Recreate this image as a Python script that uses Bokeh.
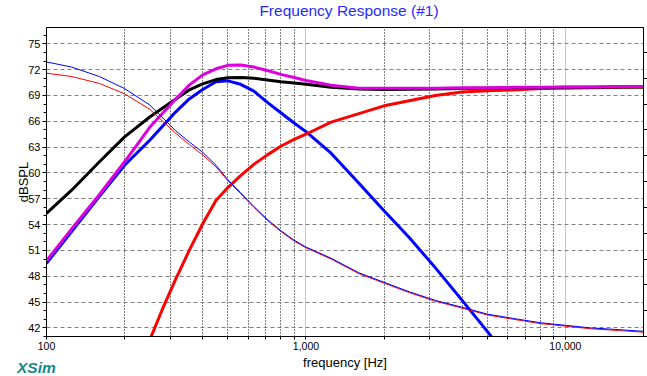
from bokeh.plotting import figure
from bokeh.models import (Range1d, FixedTicker, LinearAxis, Div,
                          CustomJSTickFormatter, GridBox)
from bokeh.embed import file_html
from bokeh.resources import INLINE

# ---------------- data ----------------
freq = [100, 125, 160, 200, 250, 315, 355, 400, 450, 500, 560, 630, 710, 800,
        900, 1000, 1250, 1600, 2000, 2500, 3150, 4000, 5000, 6300, 8000,
        10000, 12500, 16000, 20000]

magenta_db = [49.8, 53.5, 57.5, 61.3, 65.3, 68.6, 70.2, 71.4, 72.1, 72.5, 72.55,
              72.3, 71.9, 71.45, 71.1, 70.75, 70.2, 69.85, 69.85, 69.85, 69.85,
              69.9, 69.9, 69.95, 69.95, 70.0, 70.0, 70.05, 70.05]

black_db = [55.3, 58.0, 61.3, 64.2, 66.5, 68.6, 69.65, 70.35, 70.85, 71.05, 71.1,
            71.0, 70.8, 70.6, 70.45, 70.3, 69.95, 69.75, 69.7, 69.72, 69.75,
            69.8, 69.85, 69.9, 69.9, 69.95, 69.95, 70.0, 70.0]

thin_blue_db = [72.9, 72.3, 71.2, 69.8, 67.9, 64.9, 63.6, 62.4, 60.9, 59.2, 57.7,
                56.1, 54.6, 53.3, 52.2, 51.4, 50.1, 48.4, 47.3, 46.2, 45.2,
                44.4, 43.6, 43.1, 42.6, 42.3, 42.0, 41.8, 41.6]

thin_red_db = [71.6, 71.2, 70.4, 69.2, 67.4, 64.6, 63.3, 62.1, 60.7, 59.1, 57.6,
               56.0, 54.5, 53.2, 52.1, 51.3, 50.0, 48.3, 47.2, 46.1, 45.1,
               44.3, 43.5, 43.0, 42.5, 42.2, 41.9, 41.7, 41.5]

woofer_freq = [100, 125, 160, 200, 250, 315, 355, 400, 450, 500, 560, 630, 710,
               800, 900, 1000, 1250, 1600, 2000, 2500, 3150, 4000, 5000, 5400]
woofer_db = [49.5, 53.2, 57.3, 60.9, 63.8, 67.1, 68.6, 69.7, 70.6, 70.7, 70.3,
             69.5, 68.2, 67.0, 65.8, 64.8, 62.3, 58.8, 55.6, 52.5, 49.0,
             45.2, 41.6, 40.3]

tweeter_freq = [240, 250, 280, 315, 355, 400, 450, 500, 560, 630, 710, 800, 900,
                1000, 1250, 1600, 2000, 2500, 3150, 4000, 5000, 6300, 8000,
                10000, 12500, 16000, 20000]
tweeter_db = [39.1, 40.6, 44.2, 47.7, 51.0, 54.1, 56.8, 58.3, 59.7, 61.0, 62.1,
              63.1, 63.9, 64.5, 65.9, 66.9, 67.8, 68.4, 69.0, 69.4, 69.55,
              69.65, 69.8, 69.85, 69.9, 69.95, 70.0]

x_major = [100, 1000, 10000]
x_major_labels = ["100", "1,000", "10,000"]
x_minor = [200, 300, 400, 500, 600, 700, 800, 900,
           2000, 3000, 4000, 5000, 6000, 7000, 8000, 9000]
y_major = [42, 45, 48, 51, 54, 57, 60, 63, 66, 69, 72, 75]
y_minor = list(range(41, 77))
right_ticks = [41, 44, 47, 50, 53, 56, 59, 62, 65, 68, 71, 74]

TITLE = "Frequency Response (#1)"
FONT = "Liberation Sans"
W, H = 647, 376

p = figure(width=W, height=H, x_axis_type="log",
           x_range=Range1d(100, 20000), y_range=Range1d(41, 76.9),
           output_backend="svg", toolbar_location=None,
           min_border_left=46, min_border_right=3,
           min_border_top=27, min_border_bottom=40)
p.background_fill_color = "white"
p.border_fill_color = "white"
p.outline_line_color = "black"
p.outline_line_width = 1

# axes
xa = p.xaxis[0]
xa.ticker = FixedTicker(ticks=x_major, minor_ticks=x_minor)
xa.major_label_overrides = {t: l for t, l in zip(x_major, x_major_labels)}
xa.major_tick_out = 3
xa.major_tick_in = 0
xa.minor_tick_out = 3
xa.minor_tick_in = 0
xa.major_label_standoff = 2
xa.major_label_text_font = FONT
xa.major_label_text_font_size = "10.5px"
xa.major_label_text_color = "#000000"
xa.axis_line_color = "black"
xa.axis_label = "frequency [Hz]"
xa.axis_label_text_font = FONT
xa.axis_label_text_font_size = "13px"
xa.axis_label_text_font_style = "normal"
xa.axis_label_text_color = "#000000"
xa.axis_label_standoff = 2

ya = p.yaxis[0]
ya.ticker = FixedTicker(ticks=y_major, minor_ticks=y_minor)
ya.major_tick_out = 4
ya.major_tick_in = 0
ya.minor_tick_out = 3
ya.minor_tick_in = 0
ya.major_label_standoff = 2
ya.major_label_text_font = FONT
ya.major_label_text_font_size = "11px"
ya.major_label_text_color = "#000000"
ya.axis_line_color = "black"
ya.axis_label = "dBSPL"
ya.axis_label_text_font = FONT
ya.axis_label_text_font_size = "13px"
ya.axis_label_text_font_style = "normal"
ya.axis_label_text_color = "#000000"
ya.axis_label_standoff = -6

ra = LinearAxis(ticker=FixedTicker(ticks=right_ticks, minor_ticks=[]),
                formatter=CustomJSTickFormatter(code="return ''"),
                major_tick_out=4, major_tick_in=0, minor_tick_out=0,
                minor_tick_in=0, major_label_standoff=0,
                major_label_text_font_size="1px",
                axis_line_color="black")
p.add_layout(ra, "right")

# grids
p.xgrid.grid_line_color = "#8c8c8c"
p.xgrid.grid_line_dash = "1 1"
p.xgrid.minor_grid_line_color = "black"
p.xgrid.minor_grid_line_dash = "1 2"
p.ygrid.grid_line_color = "#808080"
p.ygrid.grid_line_dash = "4 3"

# curves
p.line(woofer_freq, woofer_db, line_color="#0000ff", line_width=3)
p.line(tweeter_freq, tweeter_db, line_color="#ff0000", line_width=3)
p.line(freq, black_db, line_color="#000000", line_width=3)
p.line(freq, magenta_db, line_color="#dc00dc", line_width=3)
p.line(freq, thin_red_db, line_color="#ff0000", line_width=1)
p.line(freq, thin_blue_db, line_color="#0000ff", line_width=1)

# title and "XSim" mark, overlaid in the same grid cell as the figure
title = Div(text=TITLE, width=598, height=18, margin=(2, 0, 0, 50),
            styles={"font-family": FONT, "font-size": "15.5px",
                    "color": "#2a2aff", "line-height": "18px",
                    "text-align": "center", "white-space": "nowrap"})
logo = Div(text="XSim", width=60, height=18, margin=(359, 0, 0, 17),
           styles={"font-family": FONT, "font-size": "15.5px",
                   "font-weight": "bold", "font-style": "italic",
                   "color": "#138a8a", "line-height": "18px",
                   "white-space": "nowrap"})

layout = GridBox(children=[(p, 0, 0), (title, 0, 0), (logo, 0, 0)], spacing=0)

open("out.html", "w").write(file_html(layout, INLINE))
